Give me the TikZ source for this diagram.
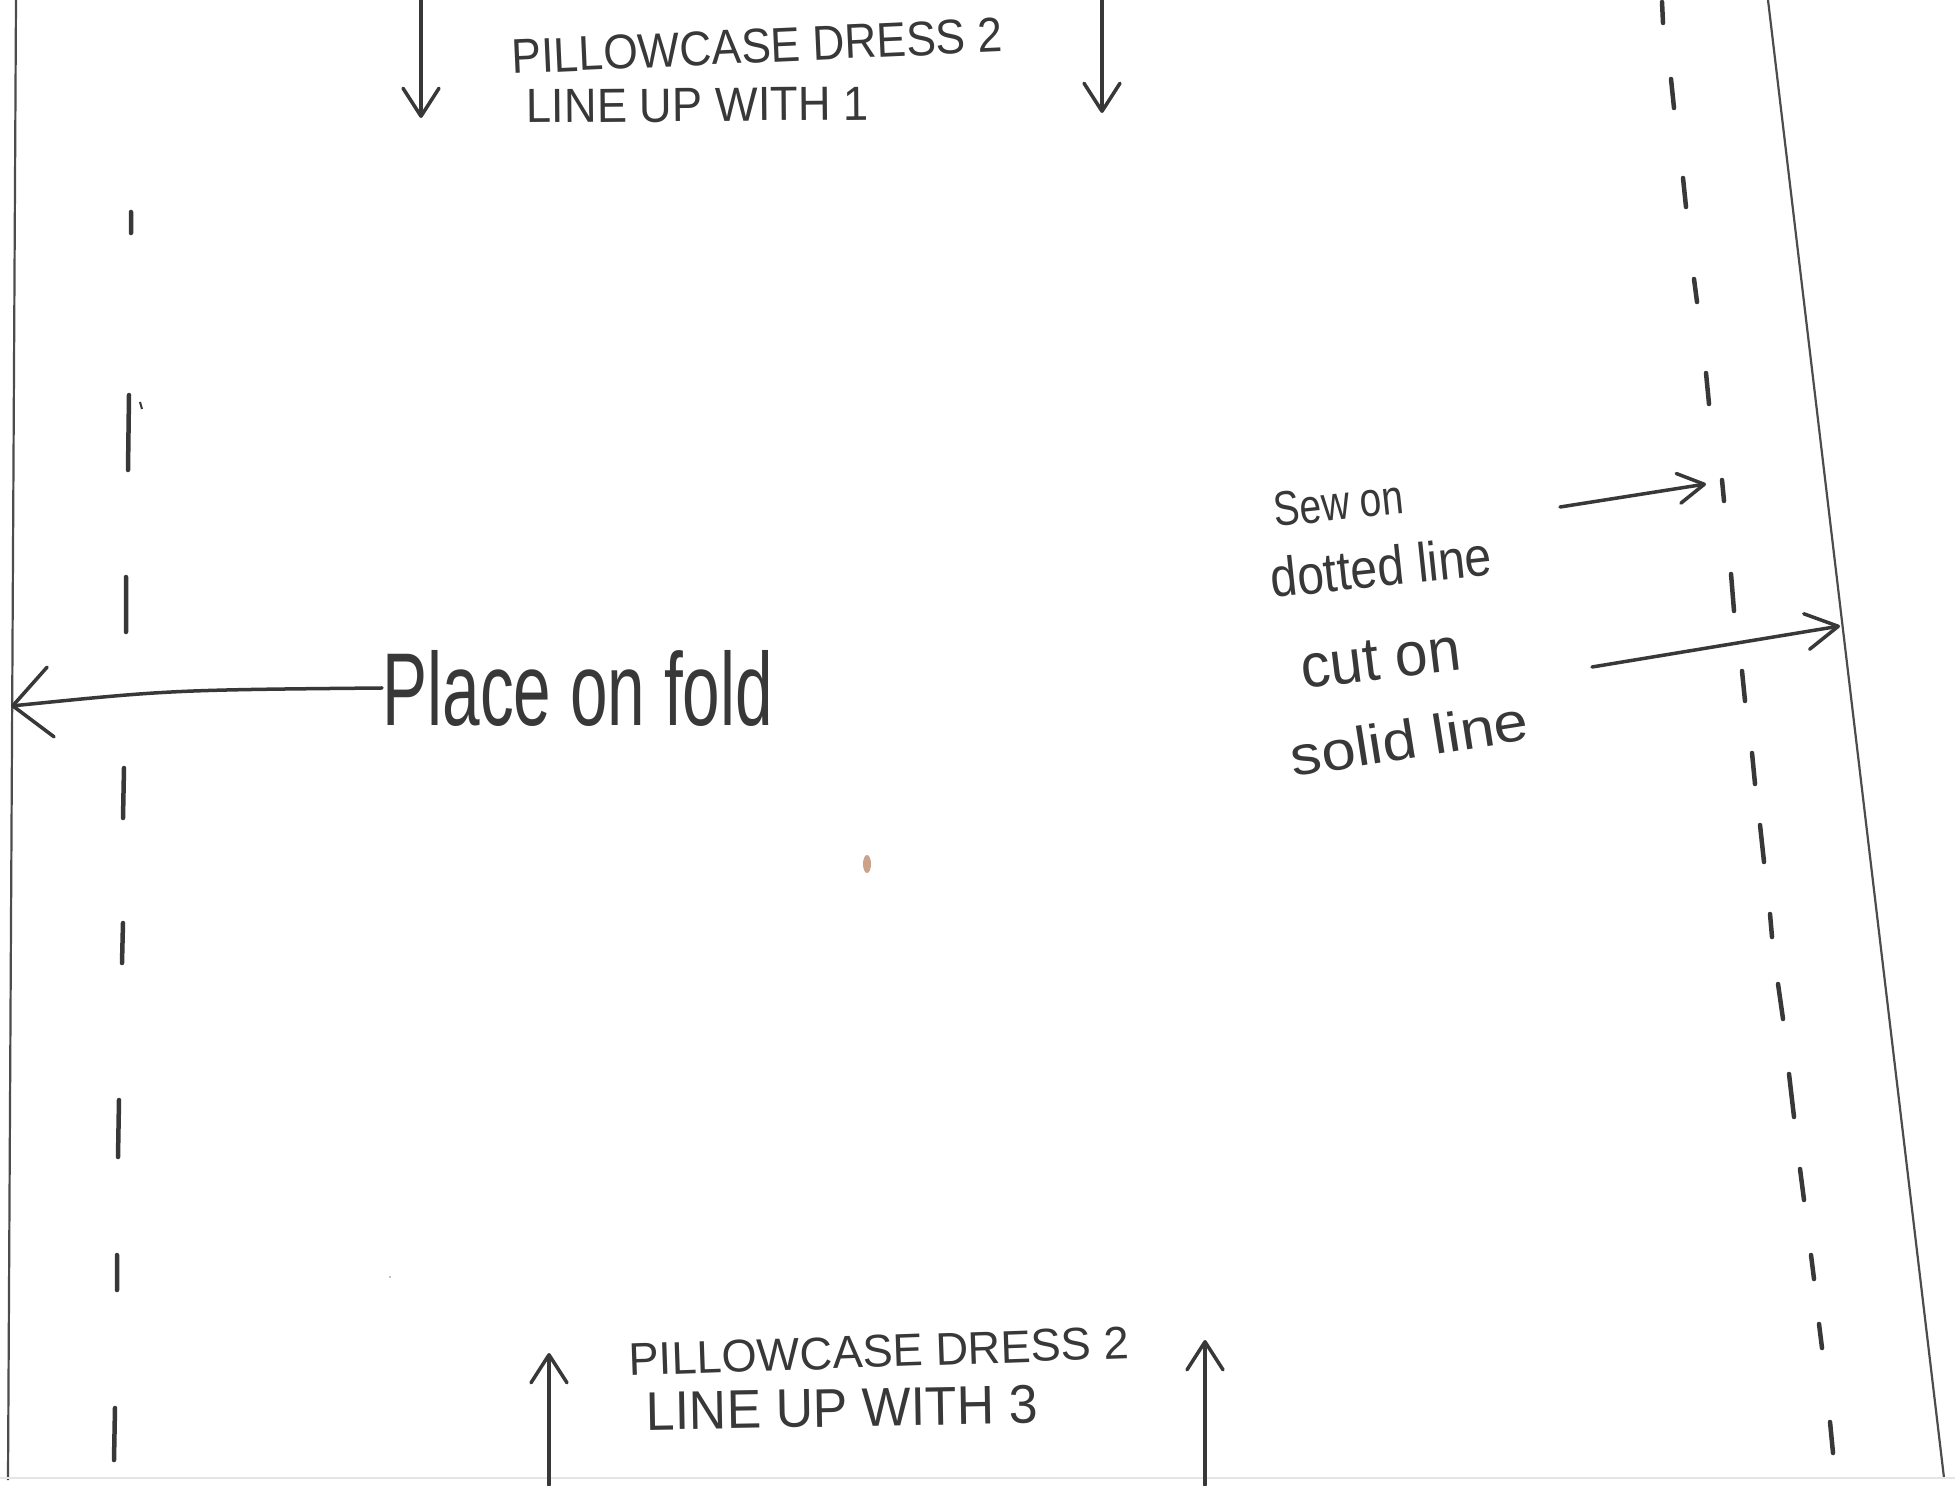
\documentclass[tikz,border=0pt]{standalone}
\usepackage{fontspec}
\setmainfont{Liberation Sans}
\usepackage{graphicx}
\usepackage{xcolor}
\usetikzlibrary{arrows.meta}
\definecolor{ink}{HTML}{383838}
\definecolor{pencil}{HTML}{4C4C4C}
\definecolor{spot}{HTML}{C9A488}

\begin{document}
\begin{tikzpicture}[x=0.01cm, y=-0.01cm,
  hand/.style={inner sep=0pt, text=ink, anchor=base west},
  cutline/.style={draw=pencil, line width=0.022cm},
  sewdash/.style={draw=ink, line width=0.045cm, line cap=round},
  penarrow/.style={draw=ink, line width=0.035cm, line cap=round,
    -{Straight Barb[round,length=0.28cm,width=0.36cm]}}]

            \fill[white] (0,0) rectangle (1955,1485);
            \useasboundingbox (0,0) rectangle (1955,1485);

            % fold edge, cutting edge and the faint scan edge
            \draw[cutline] (16,0) -- (8,1480);
            \draw[cutline] (1768,0) -- (1944,1478);
            \draw[gray!20, line width=0.02cm] (0,1478) -- (1955,1478);

            % seam allowance dashes
            \draw[sewdash] (131,212) -- (131,233) (129,395) -- (128,470) (126,577) -- (126,632)
                (124,768) -- (123,818) (123,923) -- (122,963) (119,1100) -- (118,1157)
                (117,1255) -- (117,1290) (115,1408) -- (114,1460);
            \draw[sewdash] (1662,2) -- (1663,23) (1671,79) -- (1674,108) (1683,178) -- (1686,207)
                (1694,279) -- (1697,302) (1706,373) -- (1709,404) (1722,480) -- (1724,501)
                (1731,574) -- (1734,611) (1742,671) -- (1745,701) (1752,753) -- (1755,784)
                (1760,825) -- (1764,862) (1770,914) -- (1772,937) (1778,984) -- (1783,1019)
                (1789,1074) -- (1794,1117) (1800,1169) -- (1804,1200) (1811,1255) -- (1814,1279)
                (1819,1324) -- (1822,1348) (1830,1422) -- (1833,1453);
            \draw[ink, line width=0.02cm] (140,402) -- (142,409);

            % labels
            \node[hand, rotate=2.6] (top1) at (512,74) {\resizebox{4.91cm}{0.34cm}{PILLOWCASE DRESS 2}};
            \node[hand, rotate=0.5] (top2) at (526,123) {\resizebox{3.42cm}{0.33cm}{LINE UP WITH 1}};
            \node[hand, rotate=2] (bot1) at (629,1376) {\resizebox{5.0cm}{0.32cm}{PILLOWCASE DRESS 2}};
            \node[hand, rotate=1] (bot2) at (646,1430) {\resizebox{3.91cm}{0.38cm}{LINE UP WITH 3}};
            \node[hand] (fold) at (382,725) {\resizebox{3.9cm}{0.75cm}{Place on fold}};
            \node[hand, rotate=6] (sew1) at (1275,527) {\resizebox{1.30cm}{0.34cm}{Sew on}};
            \node[hand, rotate=6] (sew2) at (1272,598) {\resizebox{2.22cm}{0.40cm}{dotted line}};
            \node[hand, rotate=7] (cut1) at (1303,689) {\resizebox{1.6cm}{0.40cm}{cut on}};
            \node[hand, rotate=9] (cut2) at (1293,777) {\resizebox{2.4cm}{0.40cm}{solid line}};

            % arrow ends
            \coordinate (upL0) at (421,0);
            \coordinate (upL1) at (421,118);
            \coordinate (upR0) at (1102,0);
            \coordinate (upR1) at (1102,113);
            \coordinate (lowL0) at (549,1485);
            \coordinate (lowL1) at (549,1353);
            \coordinate (lowR0) at (1205,1485);
            \coordinate (lowR1) at (1205,1340);
            \coordinate (foldtip) at (11,706);
            \coordinate (sewtail) at (1560,507);
            \coordinate (sewtip) at (1706,484);
            \coordinate (cuttail) at (1592,667);
            \coordinate (cuttip) at (1840,626);

            \draw[penarrow] (upL0) -- (upL1);
            \draw[penarrow] (upR0) -- (upR1);
            \draw[penarrow] (lowL0) -- (lowL1);
            \draw[penarrow] (lowR0) -- (lowR1);
            \draw[penarrow, -{Straight Barb[round,length=0.38cm,width=0.7cm]}] (fold.west) .. controls (170,690) .. (foldtip);
            \draw[penarrow, -{Straight Barb[round,length=0.26cm,width=0.3cm]}] (sewtail) -- (sewtip);
            \draw[penarrow, -{Straight Barb[round,length=0.32cm,width=0.36cm]}] (cuttail) -- (cuttip);

            % stains on the sheet
            \fill[spot] (867,864) ellipse [x radius=0.04cm, y radius=0.09cm];
            \fill[gray!60] (390,1277) circle [radius=0.012cm];

        \end{tikzpicture}
\end{document}
